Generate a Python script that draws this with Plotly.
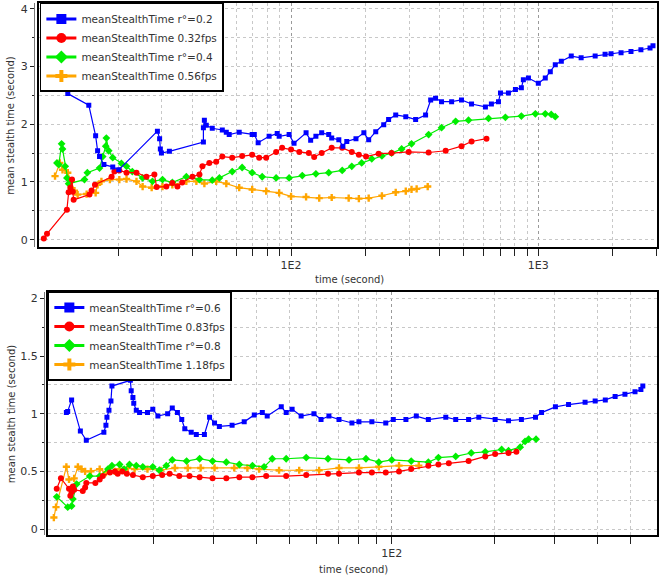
import plotly.graph_objects as go

W, H = 659, 584

# ---------------- top panel data ----------------
top_blue_x = [12.5,15.2,16.2,16.5,16.8,17.5,19.0,20.1,28.8,29.4,29.6,29.9,32.2,44.2,44.2,44.6,45.4,48.0,
              52.7,54.7,56.2,61.7,69.6,71.0,73.6,81.5,87.9,89.5,98.2,102.8,115,120,126,133,142,146,156,162,
              168,183,197,206,220,237,248,265,291,319,350,367,384,406,446,489,537,611,646,690,703,757,808,
              854,870,912,1000,1067,1118,1171,1239,1359,1490,1698,1862,1969,2161,2370,2600,2830,2909]
top_blue_y = [2.53,2.33,1.80,1.54,1.44,1.30,1.26,1.21,1.88,1.75,1.57,1.50,1.53,1.69,1.94,2.07,1.98,1.93,
              1.90,1.86,1.82,1.86,1.82,1.82,1.68,1.79,1.84,1.79,1.82,1.67,1.85,1.72,1.79,1.85,1.82,1.76,
              1.73,1.62,1.70,1.75,1.85,1.73,1.87,1.99,2.08,2.16,2.13,2.08,2.16,2.42,2.45,2.39,2.39,2.42,
              2.35,2.30,2.35,2.39,2.54,2.54,2.60,2.63,2.77,2.80,2.71,2.80,2.91,3.03,3.09,3.18,3.15,3.18,
              3.21,3.22,3.24,3.26,3.29,3.32,3.36]

top_red_x = [10.0,10.3,12.4,12.6,12.8,13.0,13.1,13.2,15.3,15.6,16.1,18.8,19.3,20.2,21.6,23.7,26.0,28.0,
             28.6,31.3,33.1,34.7,36.3,39.9,42.6,43.8,46.7,49.8,52.7,57.8,63.4,69.6,74.3,79.3,87.0,92.0,
             100,108,118,124,133,146,161,176,188,201,226,255,299,360,422,489,537,617]
top_red_y = [0.02,0.10,0.52,0.82,0.90,1.04,0.83,0.69,0.78,0.85,0.95,1.09,1.18,1.20,1.16,1.16,1.09,1.13,
             0.91,0.92,0.98,0.92,0.99,1.09,1.13,1.27,1.33,1.35,1.44,1.42,1.45,1.47,1.42,1.42,1.52,1.59,
             1.56,1.52,1.50,1.43,1.50,1.59,1.59,1.52,1.47,1.44,1.49,1.50,1.52,1.51,1.54,1.62,1.70,1.75]

top_green_x = [11.3,11.5,11.8,11.9,12.2,12.4,12.6,14.6,15.0,16.8,17.3,17.8,17.9,18.3,19.0,20.6,21.6,22.8,
               25.1,27.5,30.2,33.1,37.7,42.6,48.0,51.3,57.8,63.4,69.6,76.4,87.0,98.2,111,126,142,161,176,
               193,212,233,255,280,307,360,406,463,522,629,736,854,973,1067,1128,1171]
top_green_y = [1.33,1.30,1.66,1.57,1.27,1.07,0.97,1.04,1.16,1.24,1.44,1.62,1.76,1.54,1.42,1.32,1.27,1.18,
               1.07,1.01,1.04,0.99,1.09,1.04,1.03,1.07,1.18,1.25,1.16,1.09,1.07,1.07,1.11,1.14,1.16,1.20,
               1.27,1.33,1.40,1.45,1.50,1.57,1.66,1.82,1.94,2.05,2.07,2.10,2.12,2.14,2.18,2.18,2.17,2.13]

top_orange_x = [11.1,11.6,11.9,12.5,12.9,13.3,13.7,14.9,16.2,16.5,17.1,18.5,20.2,21.6,23.7,25.1,27.3,30.2,
                33.1,37.7,41.4,44.6,49.8,54.7,61.7,69.6,79.3,89.5,100,115,130,146,171,188,206,233,265,
                291,307,322,357]
top_orange_y = [1.10,1.33,1.21,1.16,1.01,0.85,0.78,0.79,0.81,0.95,1.01,1.04,1.04,1.05,1.01,0.92,0.90,0.92,
                0.95,1.01,1.01,0.97,1.01,0.97,0.90,0.87,0.84,0.81,0.75,0.74,0.72,0.73,0.72,0.71,0.72,0.76,
                0.82,0.84,0.87,0.88,0.92]

# ---------------- bottom panel data ----------------
bot_blue_x = [11.1,11.2,11.5,12.2,12.7,14.3,14.5,14.6,14.8,15.0,15.1,17.1,17.2,17.4,17.5,17.8,18.2,19.2,
              19.9,20.6,22.0,22.7,23.5,24.2,24.7,25.8,26.7,28.2,29.2,30.2,31.2,34.0,36.9,39.5,41.7,43.1,
              47.4,49.0,51.0,54.2,59.1,62.0,65.4,70.0,76.4,80.1,87.4,96.0,101,110,118,128,144,154,168,180,
              201,220,240,264,275,302,330,369,395,423,452,483,517,538,545]
bot_blue_y = [1.01,1.02,1.12,0.85,0.77,0.84,0.90,0.97,1.03,1.11,1.24,1.29,1.20,1.14,1.09,1.03,1.01,1.01,
              1.04,0.98,1.00,1.05,1.01,0.95,0.87,0.84,0.82,0.82,0.97,0.92,0.89,0.90,0.93,0.99,1.01,0.98,
              1.06,1.01,1.04,0.98,1.00,0.95,0.98,0.95,0.92,0.93,0.93,0.92,0.95,0.95,0.98,0.95,0.97,0.95,
              0.95,0.97,0.95,0.94,0.95,0.97,1.01,1.06,1.08,1.10,1.11,1.12,1.15,1.17,1.19,1.21,1.24]

bot_red_x = [10.4,10.7,11.3,11.4,11.5,11.6,11.7,12.4,12.6,12.7,13.5,13.9,14.2,14.9,15.4,15.7,16.2,16.7,
             17.4,18.6,19.9,21.2,22.3,23.8,25.5,27.3,29.8,32.7,35.7,39.0,42.8,49.0,56.1,65.0,70.0,80.1,
             87.4,96,105,114,128,137,147,168,188,201,220,232]
bot_red_y = [0.35,0.44,0.35,0.29,0.32,0.37,0.34,0.33,0.36,0.40,0.40,0.43,0.46,0.49,0.50,0.48,0.50,0.48,
             0.47,0.45,0.46,0.47,0.48,0.46,0.46,0.45,0.44,0.44,0.45,0.45,0.46,0.46,0.47,0.48,0.48,0.49,
             0.49,0.49,0.50,0.52,0.55,0.56,0.57,0.59,0.63,0.65,0.66,0.67]

bot_green_x = [10.4,11.2,11.5,11.6,11.9,13.0,13.9,14.7,15.1,15.9,16.4,17.0,17.8,18.6,19.9,20.8,21.8,22.7,
               25.0,27.3,29.8,32.7,35.7,39.0,42.2,44.6,49.0,56.1,65.0,74.9,84.0,91.6,100,114,128,137,154,
               171,188,210,220,238,246,252,265]
bot_green_y = [0.28,0.19,0.20,0.26,0.39,0.46,0.46,0.52,0.55,0.56,0.52,0.56,0.55,0.54,0.54,0.51,0.55,0.60,
               0.59,0.61,0.59,0.58,0.56,0.55,0.54,0.61,0.61,0.62,0.61,0.60,0.61,0.58,0.60,0.59,0.58,0.62,
               0.63,0.66,0.67,0.69,0.68,0.71,0.76,0.78,0.78]

bot_orange_x = [10.2,10.35,11.1,11.3,11.7,12.0,12.3,12.6,13.1,13.9,14.5,15.4,15.9,16.8,17.6,19.2,21.0,23.1,
                25.2,27.5,30.2,34.5,37.7,40.8,46.7,53.5,61.2,70.0,80.1,91.6,105,120]
bot_orange_y = [0.10,0.19,0.54,0.43,0.44,0.54,0.52,0.50,0.50,0.52,0.49,0.50,0.52,0.53,0.52,0.52,0.51,0.53,
                0.53,0.53,0.53,0.53,0.53,0.52,0.51,0.51,0.51,0.53,0.53,0.54,0.55,0.55]

top_names = ["meanStealthTime r°=0.2", "meanStealthTime 0.32fps",
             "meanStealthTime r°=0.4", "meanStealthTime 0.56fps"]
bot_names = ["meanStealthTime r°=0.6", "meanStealthTime 0.83fps",
             "meanStealthTime r°=0.8", "meanStealthTime 1.18fps"]

top_xticks = [100, 1000]
top_xticktext = ["1E2", "1E3"]
top_xminor = [20, 30, 40, 50, 60, 70, 80, 90, 200, 300, 400, 500, 600, 700, 800, 900, 2000, 3000]
bot_xticks = [100]
bot_xticktext = ["1E2"]
bot_xminor = [20, 30, 40, 50, 60, 70, 80, 90, 200, 300, 400, 500]

colors = ["#0000ff", "#ff0000", "#00ee00", "#ffa500"]
symbols = ["square", "circle", "diamond", "cross"]
msizes = [5, 6, 6, 6]

fig = go.Figure()

top_data = [(top_blue_x, top_blue_y), (top_red_x, top_red_y),
            (top_green_x, top_green_y), (top_orange_x, top_orange_y)]
bot_data = [(bot_blue_x, bot_blue_y), (bot_red_x, bot_red_y),
            (bot_green_x, bot_green_y), (bot_orange_x, bot_orange_y)]

order = [3, 2, 1, 0]
for i in order:
    xs, ys = top_data[i]
    fig.add_trace(go.Scatter(x=xs, y=ys, mode="lines+markers", xaxis="x", yaxis="y",
                             line=dict(color=colors[i], width=1.2),
                             marker=dict(symbol=symbols[i], size=msizes[i], color=colors[i]),
                             showlegend=False, hoverinfo="skip"))
for i in order:
    xs, ys = bot_data[i]
    fig.add_trace(go.Scatter(x=xs, y=ys, mode="lines+markers", xaxis="x2", yaxis="y2",
                             line=dict(color=colors[i], width=1.2),
                             marker=dict(symbol=symbols[i], size=msizes[i], color=colors[i]),
                             showlegend=False, hoverinfo="skip"))

# legend entries (no data), placed on the frame overlay axes
for i in range(4):
    fig.add_trace(go.Scatter(x=[None], y=[None], mode="lines+markers", xaxis="x", yaxis="y3",
                             name=top_names[i], legend="legend",
                             line=dict(color=colors[i], width=3),
                             marker=dict(symbol=symbols[i], size=10, color=colors[i])))
for i in range(4):
    fig.add_trace(go.Scatter(x=[None], y=[None], mode="lines+markers", xaxis="x2", yaxis="y4",
                             name=bot_names[i], legend="legend2",
                             line=dict(color=colors[i], width=3),
                             marker=dict(symbol=symbols[i], size=10, color=colors[i])))

tickfont = dict(family="DejaVu Sans", size=11, color="#333333")
grid_minor = "#c8c8c8"
grid_major = "#9a9a9a"

def xaxis_cfg(domain, rng, anchor, tv, tt, minor_vals):
    return dict(type="log", domain=domain, range=rng, anchor=anchor,
                tickmode="array", tickvals=tv, ticktext=tt,
                ticks="outside", ticklen=7, tickcolor="#222", tickwidth=1,
                showgrid=True, gridcolor=grid_major, griddash="dot", gridwidth=1,
                minor=dict(tickmode="array", tickvals=minor_vals, ticks="outside", ticklen=7,
                           tickcolor="#222", showgrid=True, gridcolor=grid_minor, griddash="dot"),
                showline=True, linecolor="black", linewidth=2, mirror=True,
                zeroline=False, tickfont=tickfont, fixedrange=True)

def yaxis_cfg(domain, rng, pos, tv, tt, minor_dtick):
    return dict(domain=domain, range=rng, anchor="free", position=pos,
                tickmode="array", tickvals=tv, ticktext=tt,
                ticks="outside", ticklen=4, tickcolor="#222",
                showgrid=True, gridcolor=grid_minor, griddash="dot",
                minor=dict(dtick=minor_dtick, tick0=0, ticks="outside", ticklen=2, tickcolor="#222",
                           showgrid=True, gridcolor=grid_minor, griddash="dot"),
                showline=True, linecolor="#777777", linewidth=1,
                zeroline=False, tickfont=tickfont, fixedrange=True)

def frame_axis(overlay, anchor, rng):
    return dict(overlaying=overlay, anchor=anchor, range=rng, showline=True, linecolor="black",
                linewidth=2, mirror=True, showticklabels=False, ticks="", showgrid=False,
                zeroline=False, fixedrange=True)

legend_common = dict(xanchor="left", yanchor="top", bgcolor="white", bordercolor="black",
                     borderwidth=1.5, font=dict(family="DejaVu Sans", size=10.5, color="#333333"),
                     itemwidth=30, tracegroupgap=0)

top_dom_x = [39 / W, 1.0]
top_dom_y = [1 - 247 / H, 1 - 3 / H]
bot_dom_x = [48 / W, 1.0]
bot_dom_y = [1 - 536 / H, 1 - 292 / H]
top_yrange = [-0.12, 4.10]
bot_yrange = [-0.052, 2.06]

title_font = dict(family="DejaVu Sans", size=10, color="#333333")

fig.update_layout(
    width=W, height=H, autosize=False,
    margin=dict(l=0, r=0, t=0, b=0, pad=0),
    paper_bgcolor="white", plot_bgcolor="white",
    xaxis=xaxis_cfg(top_dom_x, [0.980, 3.48], "y", top_xticks, top_xticktext, top_xminor),
    yaxis=yaxis_cfg(top_dom_y, top_yrange, 34 / W,
                    [0, 1, 2, 3, 4], ["0", "1", "2", "3", "4"], 0.5),
    yaxis3=frame_axis("y", "x", top_yrange),
    xaxis2=xaxis_cfg(bot_dom_x, [0.991, 2.778], "y2", bot_xticks, bot_xticktext, bot_xminor),
    yaxis2=yaxis_cfg(bot_dom_y, bot_yrange, 44 / W,
                     [0, 0.5, 1, 1.5, 2], ["0", "0.5", "1", "1.5", "2"], 0.25),
    yaxis4=frame_axis("y2", "x2", bot_yrange),
    legend=dict(x=40 / W, y=1 - 3 / H, **legend_common),
    legend2=dict(x=48 / W, y=1 - 292 / H, **legend_common),
    annotations=[
        dict(text="mean stealth time (second)", x=11 / W, y=1 - 125 / H, xref="paper", yref="paper",
             xanchor="center", yanchor="middle", textangle=-90, showarrow=False, font=title_font),
        dict(text="time (second)", x=351 / W, y=1 - 280 / H, xref="paper", yref="paper",
             xanchor="center", yanchor="middle", showarrow=False, font=title_font),
        dict(text="mean stealth time (second)", x=11 / W, y=1 - 414 / H, xref="paper", yref="paper",
             xanchor="center", yanchor="middle", textangle=-90, showarrow=False, font=title_font),
        dict(text="time (second)", x=355 / W, y=1 - 570 / H, xref="paper", yref="paper",
             xanchor="center", yanchor="middle", showarrow=False, font=title_font),
    ],
)

fig.write_html(
    "out.html",
    config={"displayModeBar": False, "staticPlot": True},
    post_script="document.body.style.margin='0';document.body.style.padding='0';"
                "document.body.style.overflow='hidden';",
)
